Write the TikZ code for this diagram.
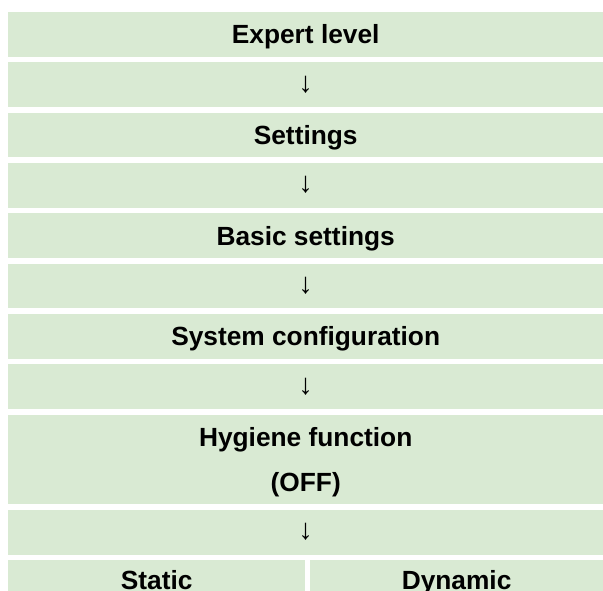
\documentclass[tikz,border=0pt]{standalone}
\usepackage{fontspec}
\setmainfont{Liberation Sans}
\usetikzlibrary{positioning}
\definecolor{cellgreen}{HTML}{D9EAD3}

\begin{document}
\begin{tikzpicture}[x=1pt, y=-1pt,
    cell/.style={fill=cellgreen, minimum width=595pt, minimum height=44.7pt, inner sep=0pt,
      font=\fontsize{26.3}{30}\selectfont\bfseries, text height=18.8pt, text depth=0pt},
    arrowcell/.style={cell, font=\fontsize{29}{30}\selectfont\bfseries, text height=17pt, text depth=2pt},
    lastcell/.style={cell, text depth=5pt},
    celltext/.style={inner sep=0pt, font=\fontsize{26.3}{30}\selectfont\bfseries, text height=18.8pt, text depth=0pt}
  ]
    \useasboundingbox (0,0) rectangle (603,591);
    \node[cell, anchor=north west] (expert) at (8,12) {Expert level};
    \node[arrowcell, below=5.2pt of expert] (down1) {↓};
    \node[cell, below=5.2pt of down1] (settings) {Settings};
    \node[arrowcell, below=5.2pt of settings] (down2) {↓};
    \node[cell, below=5.2pt of down2] (basic) {Basic settings};
    \node[arrowcell, below=5.2pt of basic] (down3) {↓};
    \node[cell, below=5.2pt of down3] (sysconf) {System configuration};
    \node[arrowcell, below=5.2pt of sysconf] (down4) {↓};
    \node[cell, minimum height=89.8pt, below=5.2pt of down4] (hygiene) {};
    \node[celltext] (hygname) at ([yshift=22.45pt]hygiene.center) {Hygiene function};
    \node[celltext] (hygstate) at ([yshift=-22.45pt]hygiene.center) {(OFF)};
    \node[arrowcell, below=5.2pt of hygiene] (down5) {↓};
    \node[lastcell, minimum width=297pt, anchor=north west] (static) at ([yshift=-5.2pt]down5.south west) {Static};
    \node[lastcell, minimum width=294pt, right=4pt of static] (dynamic) {Dynamic};
\end{tikzpicture}
\end{document}
